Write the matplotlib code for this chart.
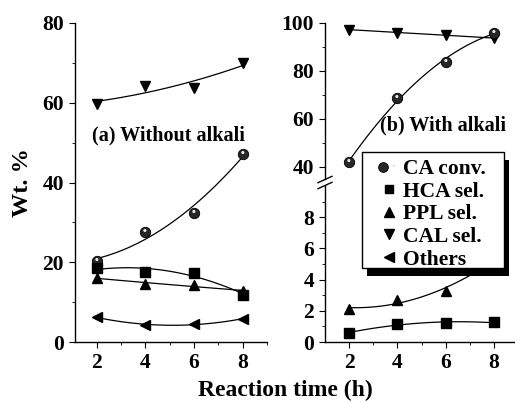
import numpy as np
import matplotlib
matplotlib.use("Agg")
import matplotlib.pyplot as plt
from matplotlib.lines import Line2D
from matplotlib.patches import Rectangle
from matplotlib.path import Path
from matplotlib.legend_handler import HandlerTuple

# data
hours = [2, 4, 6, 8]

# (a) without alkali
a_ca_conv = [20.3, 27.7, 32.4, 47.1]
a_hca_sel = [18.5, 17.5, 17.4, 11.8]
a_ppl_sel = [16.1, 14.5, 14.3, 12.8]
a_cal_sel = [59.8, 64.2, 63.8, 69.9]
a_others = [6.2, 4.3, 4.5, 5.8]

# (b) with alkali
b_ca_conv = [42.1, 68.9, 83.8, 96.0]
b_cal_sel = [97.2, 96.0, 95.1, 93.6]
b_ppl_sel = [2.13, 2.7, 3.26, 5.3]
b_hca_sel = [0.58, 1.17, 1.2, 1.26]

legend_labels = ["CA conv.", "HCA sel.", "PPL sel.", "CAL sel.", "Others"]

plt.rcParams.update({
    'font.family': 'Liberation Serif',
    'font.weight': 'bold',
    'axes.linewidth': 1.0,
    'xtick.direction': 'out',
    'ytick.direction': 'out',
    'xtick.major.size': 4.5,
    'ytick.major.size': 4.5,
    'xtick.minor.size': 2.5,
    'ytick.minor.size': 2.5,
    'xtick.labelsize': 15.5,
    'ytick.labelsize': 15.5,
})

W, H = 515, 403
fig = plt.figure(figsize=(W / 100, H / 100), dpi=100)


def fx(px):
    return px / W


def fy(py):
    return 1 - py / H


# small highlight marker for the shaded spheres (stray moveto fixes the scale)
_circ = Path.circle(center=(-0.12, 0.38), radius=0.3)
_verts = np.vstack([[[1.0, 0.0]], _circ.vertices])
_codes = np.concatenate([[Path.MOVETO], _circ.codes])
highlight = Path(_verts, _codes)

MS = 7.5
LW = 0.9


def sphere(ax, x, y):
    ax.plot(x, y, 'o', ms=MS, mfc='#262626', mec='black', mew=0.6, zorder=4)
    ax.plot(x, y, ls='none', marker=highlight, ms=MS, mfc='#e8e8e8', mec='none', zorder=5)


def trend(ax, x, y, deg=2):
    xs = np.linspace(min(x), max(x), 100)
    ax.plot(xs, np.polyval(np.polyfit(x, y, deg), xs), color='black', lw=LW, zorder=2)


def style(ax, bottom=True):
    for s in ['top', 'right']:
        ax.spines[s].set_visible(False)
    if not bottom:
        ax.spines['bottom'].set_visible(False)
        ax.tick_params(axis='x', which='both', bottom=False, labelbottom=False)
    ax.patch.set_alpha(0)


# ---- panel (a)
ax1 = fig.add_axes([fx(75), fy(342), fx(192), 319 / H])
trend(ax1, hours, a_ca_conv)
trend(ax1, hours, a_hca_sel)
trend(ax1, hours, a_ppl_sel)
trend(ax1, hours, a_cal_sel)
trend(ax1, hours, a_others)
sphere(ax1, hours, a_ca_conv)
ax1.plot(hours, a_hca_sel, 's', ms=6.8, color='black', zorder=4)
ax1.plot(hours, a_ppl_sel, '^', ms=MS, color='black', zorder=4)
ax1.plot(hours, a_cal_sel, 'v', ms=MS, color='black', zorder=4)
ax1.plot(hours, a_others, '<', ms=MS, color='black', zorder=4)
ax1.set_xlim(1.1, 9)
ax1.set_ylim(0, 80)
ax1.set_xticks([2, 4, 6, 8])
ax1.set_xticks([3, 5, 7, 9], minor=True)
ax1.set_yticks([0, 20, 40, 60, 80])
ax1.set_yticks([10, 30, 50, 70], minor=True)
style(ax1)

# ---- panel (b), broken y axis
ax2b = fig.add_axes([fx(325), fy(342), fx(193), 156 / H])
ax2t = fig.add_axes([fx(325), fy(179), fx(193), 156 / H])

trend(ax2t, hours, b_ca_conv)
trend(ax2t, hours, b_cal_sel, deg=1)
ax2t.plot(hours, b_cal_sel, 'v', ms=MS, color='black', zorder=4)
sphere(ax2t, hours, b_ca_conv)
trend(ax2b, hours, b_ppl_sel)
trend(ax2b, hours, b_hca_sel)
ax2b.plot(hours, b_ppl_sel, '^', ms=MS, color='black', zorder=4)
ax2b.plot(hours, b_hca_sel, 's', ms=6.8, color='black', zorder=4)

for ax in (ax2b, ax2t):
    ax.set_xlim(1, 9)
ax2b.set_ylim(0, 10)
ax2t.set_ylim(35, 100)
ax2b.set_xticks([2, 4, 6, 8])
ax2b.set_xticks([3, 5, 7, 9], minor=True)
ax2b.set_yticks([0, 2, 4, 6, 8])
ax2b.set_yticks([1, 3, 5, 7, 9], minor=True)
ax2t.set_yticks([40, 60, 80, 100])
ax2t.set_yticks([50, 70, 90], minor=True)
style(ax2b)
style(ax2t, bottom=False)

# break marks on the right panel's y axis
for yc in (179.5, 185.5):
    fig.add_artist(Line2D([fx(318), fx(332)], [fy(yc + 3.2), fy(yc - 3.2)],
                          transform=fig.transFigure, color='black', lw=1.0))

# panel captions and axis titles
fig.text(fx(168), fy(135), "(a) Without alkali", ha='center', va='center', fontsize=14.5)
fig.text(fx(443), fy(125), "(b) With alkali", ha='center', va='center', fontsize=14.5)
fig.text(fx(285), fy(390), "Reaction time (h)", ha='center', va='center', fontsize=17)
fig.text(fx(22), fy(183), "Wt. %", ha='center', va='center', rotation=90, fontsize=17.5)

# legend: own frame with a solid drop shadow
fig.add_artist(Rectangle((fx(367), fy(276)), fx(142), 116 / H, transform=fig.transFigure,
                         facecolor='black', edgecolor='none', zorder=9))
fig.add_artist(Rectangle((fx(362), fy(268)), fx(142), 116 / H, transform=fig.transFigure,
                         facecolor='white', edgecolor='black', lw=1.0, zorder=9.5))

handles = [
    (Line2D([], [], ls='none', marker='o', ms=7, mfc='#262626', mec='black', mew=0.6),
     Line2D([], [], ls='none', marker=highlight, ms=7, mfc='#e8e8e8', mec='none')),
    Line2D([], [], ls='none', marker='s', ms=6.3, color='black'),
    Line2D([], [], ls='none', marker='^', ms=7, color='black'),
    Line2D([], [], ls='none', marker='v', ms=7, color='black'),
    Line2D([], [], ls='none', marker='<', ms=7, color='black'),
]
leg = fig.legend(handles, legend_labels, loc='upper left', bbox_to_anchor=(fx(378), fy(159)),
                 prop={'size': 15.5, 'weight': 'bold'}, frameon=False,
                 handlelength=1.0, handletextpad=0.18,
                 labelspacing=0.12, borderpad=0, borderaxespad=0,
                 handler_map={tuple: HandlerTuple(ndivide=None)})
leg.set_zorder(10)

fig.savefig("out.png", dpi=100)
